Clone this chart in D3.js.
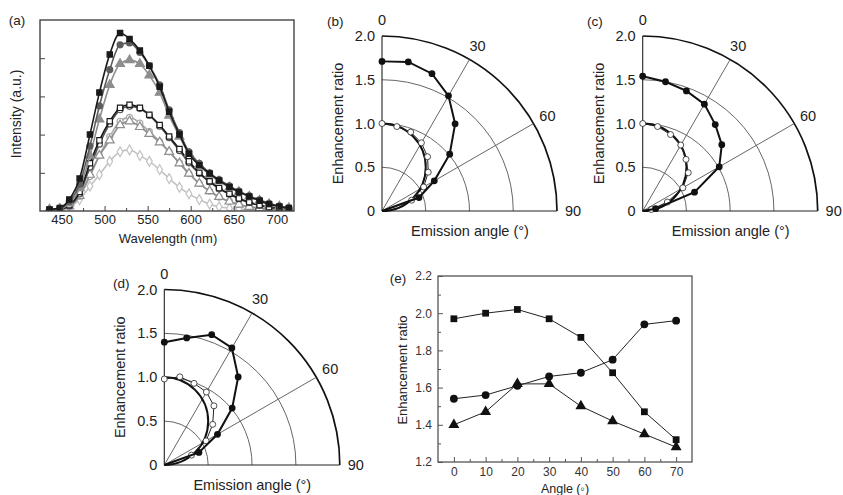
<!DOCTYPE html>
<html lang="en">
<head>
<meta charset="utf-8">
<title>Emission spectra and enhancement ratios</title>
<script src="https://cdn.jsdelivr.net/npm/d3@7"></script>
<style>
  body { margin: 0; background: #fff; }
  svg { background: #fff; font-family: "Liberation Sans", Arial, sans-serif; }
</style>
</head>
<body>
<script>

// ---- (a) emission spectra ----
var wavelengths = [436, 448, 459, 471, 483, 494, 506, 518, 529, 541, 552, 564, 575,
                   587, 598, 610, 622, 633, 645, 656, 668, 680, 691, 703, 714];
var specA1 = [0.04,0.08,0.30,0.85,2.00,3.10,4.10,4.66,4.50,4.20,3.80,3.25,2.60,2.00,1.50,1.20,0.98,0.80,0.63,0.50,0.38,0.27,0.18,0.12,0.08];
var specA2 = [0.04,0.07,0.25,0.70,1.70,2.75,3.70,4.35,4.40,4.15,3.80,3.30,2.65,2.05,1.55,1.25,1.00,0.82,0.66,0.52,0.40,0.29,0.20,0.13,0.08];
var specA3 = [0.04,0.06,0.20,0.60,1.45,2.40,3.30,3.85,3.95,3.85,3.55,3.10,2.50,1.95,1.50,1.20,0.95,0.78,0.62,0.50,0.38,0.27,0.18,0.12,0.08];
var specB1 = [0.03,0.05,0.15,0.50,1.25,1.85,2.35,2.70,2.78,2.70,2.52,2.25,1.95,1.62,1.30,1.00,0.78,0.60,0.45,0.33,0.23,0.15,0.10,0.07,0.05];
var specB2 = [0.03,0.05,0.14,0.45,1.15,1.75,2.28,2.65,2.74,2.68,2.50,2.22,1.92,1.58,1.26,0.98,0.76,0.58,0.44,0.32,0.22,0.15,0.10,0.07,0.05];
var specC1 = [0.03,0.05,0.12,0.40,0.95,1.45,1.85,2.25,2.35,2.20,2.02,1.80,1.55,1.25,0.98,0.72,0.52,0.37,0.25,0.17,0.11,0.08,0.05,0.04,0.03];
var specC2 = [0.03,0.05,0.12,0.38,0.90,1.45,1.95,2.35,2.45,2.30,2.08,1.82,1.55,1.26,0.98,0.72,0.52,0.36,0.25,0.17,0.11,0.07,0.05,0.04,0.03];
var specD  = [0.03,0.04,0.10,0.30,0.65,0.95,1.30,1.55,1.60,1.45,1.30,1.08,0.85,0.62,0.45,0.30,0.18,0.11,0.07,0.05,0.04,0.03,0.03,0.02,0.02];
var wlTicks = [450, 500, 550, 600, 650, 700];

// ---- (b)-(d) polar enhancement ----
var polarAngles = [0, 10, 20, 30, 40, 50, 60, 70, 80, 90];
var bFilled = [1.71, 1.73, 1.67, 1.52, 1.30, 1.01, 0.69, 0.45, null, 0];
var bOpen   = [1.00, 0.98, 0.96, 0.90, 0.81, 0.69, 0.55, 0.36, null, 0];
var cFilled = [1.54, 1.50, 1.46, 1.41, 1.29, 1.18, 1.01, 0.63, 0.15, 0];
var cOpen   = [1.00, 0.98, 0.93, 0.87, 0.77, 0.68, 0.53, 0.30, 0.10, 0];
var dFilled = [1.40, 1.47, 1.58, 1.54, 1.31, 1.01, 0.70, 0.42, null, 0];
var dOpen   = [0.98, 1.02, 0.99, 0.96, 0.88, 0.72, 0.55, 0.33, null, 0];
var lambertDiameter = 1.0;
var radialTicks = [0, 0.5, 1.0, 1.5, 2.0];
var angleTicks = [0, 30, 60, 90];

// ---- (e) enhancement vs angle ----
var eAngles = [0, 10, 20, 30, 40, 50, 60, 70];
var eSquare = [1.97, 2.00, 2.02, 1.97, 1.87, 1.68, 1.47, 1.32];
var eCircle = [1.54, 1.56, 1.61, 1.66, 1.68, 1.75, 1.94, 1.96];
var eTriangle = [1.40, 1.47, 1.62, 1.62, 1.50, 1.42, 1.35, 1.28];

var svg = d3.select("body").append("svg")
            .attr("width", 843)
            .attr("height", 495);

function label(x, y, txt, size, opts) {
  opts = opts || {};
  var t = svg.append("text")
    .attr("x", x).attr("y", y)
    .attr("font-size", size)
    .attr("fill", opts.fill || "#222")
    .attr("text-anchor", opts.anchor || "middle")
    .attr("dominant-baseline", "central")
    .text(txt);
  if (opts.rotate) t.attr("transform", "rotate(-90," + x + "," + y + ")");
  return t;
}

// ================= panel (a) =================
var ax = d3.scaleLinear().domain([425, 720]).range([40, 294]);
var ay = d3.scaleLinear().domain([0, 5]).range([211, 20]);

svg.append("clipPath").attr("id", "clipA")
   .append("rect").attr("x", 40).attr("y", 20).attr("width", 254).attr("height", 191);

var specStyles = [
  { data: specD,  color: "#c2c2c2", sym: d3.symbolDiamond,  fill: false },
  { data: specC2, color: "#aaaaaa", sym: d3.symbolCircle,   fill: false },
  { data: specC1, color: "#8e8e8e", sym: d3.symbolTriangle, fill: false },
  { data: specB2, color: "#555555", sym: d3.symbolCircle,   fill: false },
  { data: specB1, color: "#1c1c1c", sym: d3.symbolSquare,   fill: false },
  { data: specA3, color: "#8e8e8e", sym: d3.symbolTriangle, fill: true },
  { data: specA2, color: "#5c5c5c", sym: d3.symbolCircle,   fill: true },
  { data: specA1, color: "#1a1a1a", sym: d3.symbolSquare,   fill: true }
];

var gA = svg.append("g").attr("clip-path", "url(#clipA)");
var specLine = d3.line()
  .x(function(d, i) { return ax(wavelengths[i]); })
  .y(function(d) { return ay(d); })
  .curve(d3.curveMonotoneX);

specStyles.forEach(function(s) {
  gA.append("path")
    .attr("d", specLine(s.data))
    .attr("fill", "none")
    .attr("stroke", s.color)
    .attr("stroke-width", 1.6);
  gA.selectAll(null)
    .data(s.data)
    .enter()
    .append("path")
    .attr("transform", function(d, i) { return "translate(" + ax(wavelengths[i]) + "," + ay(d) + ")"; })
    .attr("d", d3.symbol().type(s.sym).size(s.sym === d3.symbolTriangle ? 34 : 28))
    .attr("fill", s.fill ? s.color : "#fff")
    .attr("stroke", s.color)
    .attr("stroke-width", 1.2);
});

// axes (a)
svg.append("g")
  .attr("transform", "translate(0,211)")
  .call(d3.axisBottom(ax).tickValues(wlTicks).tickSize(-5).tickPadding(4))
  .call(function(g) {
    g.select(".domain").remove();
    g.selectAll("text").attr("font-size", 13).attr("fill", "#222").attr("font-family", null);
    g.selectAll("line").attr("stroke", "#444");
  });
svg.append("g")
  .attr("transform", "translate(0,211)")
  .call(d3.axisBottom(ax).tickValues([475, 525, 575, 625, 675]).tickSize(-3).tickFormat(""))
  .call(function(g) { g.select(".domain").remove(); g.selectAll("line").attr("stroke", "#444"); });
svg.append("g")
  .attr("transform", "translate(40,0)")
  .call(d3.axisLeft(ay).tickValues([1, 2, 3, 4]).tickSize(-5).tickFormat(""))
  .call(function(g) { g.select(".domain").remove(); g.selectAll("line").attr("stroke", "#444"); });

svg.append("rect")
  .attr("x", 40).attr("y", 20).attr("width", 254).attr("height", 191)
  .attr("fill", "none").attr("stroke", "#444").attr("stroke-width", 1.4);

label(17, 20, "(a)", 13.5);
label(16, 114, "Intensity (a.u.)", 14, { rotate: true });
label(168, 238, "Wavelength (nm)", 13);

// ================= polar panels =================
function quarterArc(R) {
  var p = d3.path();
  p.moveTo(0, -R);
  p.arc(0, 0, R, -Math.PI / 2, 0);
  return p.toString();
}

function polarPanel(ox, oy, R, tag, filledVals, openVals) {
  var r = d3.scaleLinear().domain([0, 2]).range([0, R]);
  var rad = function(a) { return a * Math.PI / 180; };
  var g = svg.append("g").attr("transform", "translate(" + ox + "," + oy + ")");

  radialTicks.slice(1, 4).forEach(function(v) {
    g.append("path").attr("d", quarterArc(r(v)))
      .attr("fill", "none").attr("stroke", "#555").attr("stroke-width", 0.9);
  });
  g.append("path").attr("d", quarterArc(r(2)))
    .attr("fill", "none").attr("stroke", "#111").attr("stroke-width", 1.7);

  [30, 60].forEach(function(a) {
    g.append("line")
      .attr("x1", 0).attr("y1", 0)
      .attr("x2", r(2) * Math.sin(rad(a))).attr("y2", -r(2) * Math.cos(rad(a)))
      .attr("stroke", "#555").attr("stroke-width", 0.9);
  });
  g.append("line").attr("x1", 0).attr("y1", 0).attr("x2", 0).attr("y2", -r(2))
    .attr("stroke", "#222").attr("stroke-width", 1.1);
  g.append("line").attr("x1", 0).attr("y1", 0).attr("x2", r(2)).attr("y2", 0)
    .attr("stroke", "#222").attr("stroke-width", 1.1);

  // radial tick labels
  radialTicks.forEach(function(v) {
    g.append("text")
      .attr("x", -7).attr("y", -r(v))
      .attr("text-anchor", "end").attr("dominant-baseline", "central")
      .attr("font-size", 14.5).attr("fill", "#222")
      .text(v === 0 ? "0" : d3.format(".1f")(v));
  });
  // angle labels
  angleTicks.forEach(function(a) {
    var rr = r(2) + 16;
    g.append("text")
      .attr("x", rr * Math.sin(rad(a))).attr("y", -rr * Math.cos(rad(a)))
      .attr("text-anchor", "middle").attr("dominant-baseline", "central")
      .attr("font-size", 14.5).attr("fill", "#222")
      .text(a);
  });

  // Lambertian reference (circle r = cos θ)
  var lp = d3.path();
  lp.moveTo(0, -r(lambertDiameter));
  lp.arc(0, -r(lambertDiameter / 2), r(lambertDiameter / 2), -Math.PI / 2, Math.PI / 2);
  g.append("path").attr("d", lp.toString())
    .attr("fill", "none").attr("stroke", "#111").attr("stroke-width", 2);

  var radial = d3.lineRadial()
    .angle(function(d) { return rad(d.a); })
    .radius(function(d) { return r(d.v); });

  var openPts = polarAngles.map(function(a, i) { return { a: a, v: openVals[i] }; })
                           .filter(function(d) { return d.v !== null; });
  var filledPts = polarAngles.map(function(a, i) { return { a: a, v: filledVals[i] }; })
                             .filter(function(d) { return d.v !== null; });

  g.append("path").attr("d", radial(openPts))
    .attr("fill", "none").attr("stroke", "#222").attr("stroke-width", 1);
  g.selectAll(null).data(openPts.filter(function(d) { return d.v > 0; }))
    .enter().append("circle")
    .attr("cx", function(d) { return r(d.v) * Math.sin(rad(d.a)); })
    .attr("cy", function(d) { return -r(d.v) * Math.cos(rad(d.a)); })
    .attr("r", 3)
    .attr("fill", "#fff").attr("stroke", "#222").attr("stroke-width", 0.8);

  g.append("path").attr("d", radial(filledPts))
    .attr("fill", "none").attr("stroke", "#111").attr("stroke-width", 2);
  g.selectAll(null).data(filledPts.filter(function(d) { return d.v > 0; }))
    .enter().append("circle")
    .attr("cx", function(d) { return r(d.v) * Math.sin(rad(d.a)); })
    .attr("cy", function(d) { return -r(d.v) * Math.cos(rad(d.a)); })
    .attr("r", 3.4)
    .attr("fill", "#111");

  label(ox - 55, oy - 8, tag, 13.5, { anchor: "start" });
  label(ox - 44, oy - r(1), "Enhancement ratio", 14.5, { rotate: true });
  label(ox + 88, oy + 20, "Emission angle (\u00b0)", 14.5);
}

polarPanel(382, 211, 175, "(b)", bFilled, bOpen);
polarPanel(642.7, 211, 175, "(c)", cFilled, cOpen);
polarPanel(164.3, 465, 175.5, "(d)", dFilled, dOpen);

// panel tags (positioned independently of the helper)
svg.selectAll("text").filter(function() {
  var t = d3.select(this).text();
  return t === "(b)" || t === "(c)" || t === "(d)";
}).each(function() {
  var t = d3.select(this).text();
  var pos = { "(b)": [327, 21], "(c)": [587, 21], "(d)": [113, 283] }[t];
  d3.select(this).attr("x", pos[0]).attr("y", pos[1]);
});

// ================= panel (e) =================
var ex = d3.scaleLinear().domain([-5, 75]).range([438, 692]);
var ey = d3.scaleLinear().domain([1.2, 2.2]).range([462, 276]);

function styleAxis(g) {
  g.select(".domain").remove();
  g.selectAll("text").attr("font-size", 12).attr("fill", "#333").attr("font-family", null);
  g.selectAll("line").attr("stroke", "#555");
}
svg.append("g").attr("transform", "translate(0,462)")
  .call(d3.axisBottom(ex).tickValues(eAngles).tickSize(-5).tickPadding(5))
  .call(styleAxis);
svg.append("g").attr("transform", "translate(0,462)")
  .call(d3.axisBottom(ex).tickValues([5, 15, 25, 35, 45, 55, 65]).tickSize(-3).tickFormat(""))
  .call(styleAxis);
svg.append("g").attr("transform", "translate(438,0)")
  .call(d3.axisLeft(ey).tickValues([1.2, 1.4, 1.6, 1.8, 2.0, 2.2]).tickSize(-5).tickPadding(6)
          .tickFormat(d3.format(".1f")))
  .call(styleAxis);
svg.append("g").attr("transform", "translate(438,0)")
  .call(d3.axisLeft(ey).tickValues([1.3, 1.5, 1.7, 1.9, 2.1]).tickSize(-3).tickFormat(""))
  .call(styleAxis);

svg.append("rect")
  .attr("x", 438).attr("y", 276).attr("width", 254).attr("height", 186)
  .attr("fill", "none").attr("stroke", "#555").attr("stroke-width", 1.3);

var eSeries = [
  { data: eSquare, sym: d3.symbolSquare, size: 46 },
  { data: eCircle, sym: d3.symbolCircle, size: 48 },
  { data: eTriangle, sym: d3.symbolTriangle, size: 52 }
];
var eLine = d3.line()
  .x(function(d, i) { return ex(eAngles[i]); })
  .y(function(d) { return ey(d); });

eSeries.forEach(function(s) {
  svg.append("path").attr("d", eLine(s.data))
    .attr("fill", "none").attr("stroke", "#222").attr("stroke-width", 1);
  svg.selectAll(null).data(s.data).enter()
    .append("path")
    .attr("transform", function(d, i) { return "translate(" + ex(eAngles[i]) + "," + ey(d) + ")"; })
    .attr("d", d3.symbol().type(s.sym).size(s.size))
    .attr("fill", "#111");
});

label(398, 278, "(e)", 13.5);
label(402, 370, "Enhancement ratio", 13, { rotate: true });
label(565, 489, "Angle (\u25e6)", 12.5);

</script>
</body>
</html>
